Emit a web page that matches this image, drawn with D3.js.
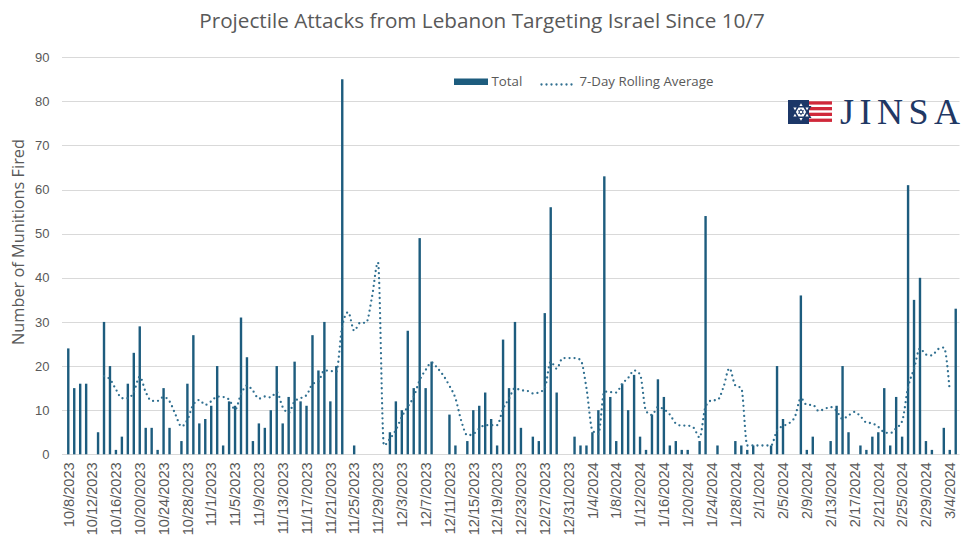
<!DOCTYPE html>
<html><head><meta charset="utf-8">
<script src="https://cdn.jsdelivr.net/npm/d3@7"></script>
<style>body{margin:0;background:#fff;} svg{display:block;}</style>
</head><body>
<svg id="chart" width="968" height="535"></svg>
<script>
// ---------------- DATA ----------------
const startDate = "2023-10-08";
const chartTitle = "Projectile Attacks from Lebanon Targeting Israel Since 10/7";
const yAxisTitle = "Number of Munitions Fired";
const seriesNames = ["Total", "7-Day Rolling Average"];
const yTicks = [0, 10, 20, 30, 40, 50, 60, 70, 80, 90];
const tickLabels = [
  "10/8/2023","10/12/2023","10/16/2023","10/20/2023","10/24/2023","10/28/2023",
  "11/1/2023","11/5/2023","11/9/2023","11/13/2023","11/17/2023","11/21/2023",
  "11/25/2023","11/29/2023","12/3/2023","12/7/2023","12/11/2023","12/15/2023",
  "12/19/2023","12/23/2023","12/27/2023","12/31/2023","1/4/2024","1/8/2024",
  "1/12/2024","1/16/2024","1/20/2024","1/24/2024","1/28/2024","2/1/2024",
  "2/5/2024","2/9/2024","2/13/2024","2/17/2024","2/21/2024","2/25/2024",
  "2/29/2024","3/4/2024"
];
// daily totals, 10/8/2023 .. 3/5/2024
const totals = [
  24,15,16,16,0,5,30,20,1,4,
  16,23,29,6,6,1,15,6,0,3,
  16,27,7,8,11,20,2,12,11,31,
  22,3,7,6,10,20,7,13,21,12,
  11,27,19,30,12,20,85,0,2,0,
  0,0,0,0,5,12,10,28,15,49,
  15,21,0,0,9,2,0,3,10,11,
  14,8,2,26,15,30,6,0,4,3,
  32,56,14,0,0,4,2,2,5,10,
  63,13,3,16,10,18,4,1,9,17,
  13,2,3,1,1,0,3,54,0,2,
  0,0,3,2,1,2,0,0,2,20,
  8,0,0,36,1,4,0,0,3,11,
  20,5,0,2,1,4,5,15,2,13,
  4,61,35,40,3,1,0,6,1,33
];
const rollingAvg = [
  null,null,null,null,null,null,
  17.7,17.0,14.7,12.7,12.7,14.1,17.6,14.1,12.1,12.1,
  13.0,12.0,9.0,6.3,7.8,11.3,12.3,11.2,12.0,13.1,
  13.0,12.4,10.1,13.6,15.6,14.4,12.6,13.1,12.9,14.1,
  10.7,9.4,12.0,12.7,13.4,15.9,16.5,19.0,18.9,18.7,
  29.1,32.2,28.0,29.8,29.8,35.7,43.5,2.0,3.5,5.5,
  8.5,10.8,13.0,16.8,19.1,20.8,19.5,17.8,15.5,12.7,
  7.5,4.3,4.6,5.8,6.6,6.6,6.6,10.3,12.6,15.0,
  14.5,14.4,13.8,14.0,15.0,21.0,19.4,21.8,21.8,21.8,
  21.4,15.0,5.4,4.6,14.2,14.1,14.0,16.0,17.3,19.0,
  18.1,9.8,8.9,10.7,10.2,9.0,7.0,6.5,6.5,6.0,
  3.8,10.8,12.2,12.3,15.2,19.5,15.6,15.0,2.0,2.0,
  2.0,2.0,2.0,5.4,6.4,7.0,8.5,12.7,11.2,11.2,
  9.8,10.3,10.7,9.8,8.0,8.8,9.6,8.6,7.2,7.0,
  6.2,5.0,4.8,5.9,7.5,15.2,19.4,24.0,22.6,22.4,
  23.8,24.2,14.3,null
];

// ---------------- STYLE ----------------
const barColor = "#1d5c7e";
const lineColor = "#2f6f90";
const textColor = "#595959";
const gridColor = "#d9d9d9";

// ---------------- SCALES ----------------
const parse = d3.timeParse("%Y-%m-%d");
const fmt = d => `${d.getMonth()+1}/${d.getDate()}/${d.getFullYear()}`;
const start = parse(startDate);
const categories = d3.timeDay.range(start, d3.timeDay.offset(start, totals.length)).map(fmt);

const svg = d3.select("#chart");
const plotL = 65.3, plotR = 958.7, plotB = 454.3, plotT = 57.2;
const x = d3.scaleBand().domain(categories).range([plotL, plotR]).paddingInner(0).paddingOuter(0);
const y = d3.scaleLinear().domain([0, 90]).range([plotB, plotT]);
const cx = c => x(c) + x.bandwidth() / 2;

// fit text helper
function fit(sel, target) {
  const w = sel.node().getComputedTextLength();
  const fs = parseFloat(sel.style("font-size"));
  sel.style("font-size", (fs * target / w) + "px");
}

// ---------------- GRID ----------------
svg.append("g").selectAll("line").data(yTicks).join("line")
  .attr("x1", 62).attr("x2", 959.5)
  .attr("y1", d => Math.round(y(d)) + 0.5).attr("y2", d => Math.round(y(d)) + 0.5)
  .attr("stroke", gridColor).attr("stroke-width", 1);

// ---------------- Y AXIS ----------------
const yAxis = svg.append("g").attr("transform", "translate(52.5,0)")
  .call(d3.axisLeft(y).tickValues(yTicks).tickSize(0).tickPadding(3));
yAxis.select(".domain").remove();
yAxis.selectAll("text").attr("fill", textColor)
  .style("font-family", "'Liberation Sans', Arial, sans-serif").style("font-size", "13px");

// ---------------- X AXIS ----------------
const xAxis = svg.append("g").attr("transform", `translate(0,${plotB})`)
  .call(d3.axisBottom(x).tickValues(tickLabels).tickSize(0));
xAxis.select(".domain").remove();
xAxis.selectAll("text")
  .attr("fill", textColor)
  .style("font-family", "'Liberation Sans', Arial, sans-serif").style("font-size", "14px")
  .style("text-anchor", "end")
  .attr("transform", "rotate(-90)")
  .attr("x", -8).attr("y", 0).attr("dy", "0.36em");
{
  const t = xAxis.selectAll("text").filter(d => d === "10/8/2023");
  fit(t, 65);
  const fs = t.style("font-size");
  xAxis.selectAll("text").style("font-size", fs);
}

// ---------------- BARS ----------------
const bw = 2.4;
svg.append("g").selectAll("rect")
  .data(categories.map((c, i) => ({c, v: totals[i]})).filter(d => d.v > 0))
  .join("rect")
  .attr("x", d => cx(d.c) - bw / 2)
  .attr("width", bw)
  .attr("y", d => y(d.v))
  .attr("height", d => y(0) - y(d.v))
  .attr("fill", barColor);

// ---------------- ROLLING AVERAGE ----------------
const line = d3.line()
  .defined(d => d.v != null)
  .x(d => cx(d.c)).y(d => y(d.v))
  .curve(d3.curveMonotoneX);
svg.append("path")
  .datum(categories.map((c, i) => ({c, v: rollingAvg[i]})))
  .attr("d", line)
  .attr("fill", "none").attr("stroke", lineColor)
  .attr("stroke-width", 2.3).attr("stroke-linecap", "round")
  .attr("stroke-dasharray", "0 5");

// ---------------- TITLES ----------------
const title = svg.append("text").text(chartTitle)
  .attr("x", 482).attr("y", 28).attr("text-anchor", "middle")
  .attr("fill", textColor)
  .style("font-family", "'Open Sans', sans-serif").style("font-size", "18px");
fit(title, 566);

const yt = svg.append("text").text(yAxisTitle)
  .attr("transform", "translate(24,242) rotate(-90)")
  .attr("text-anchor", "middle").attr("fill", textColor)
  .style("font-family", "'Open Sans', sans-serif").style("font-size", "13px");
fit(yt, 206);

// ---------------- LEGEND ----------------
const lg = svg.append("g");
lg.append("rect").attr("x", 454).attr("y", 78.5).attr("width", 34).attr("height", 6.5).attr("fill", barColor);
const l1 = lg.append("text").text(seriesNames[0]).attr("x", 491.5).attr("y", 86)
  .attr("fill", textColor).style("font-family", "'Open Sans', sans-serif").style("font-size", "13px");
lg.append("path").attr("d", "M541.5,84.5H574.5")
  .attr("stroke", lineColor).attr("stroke-width", 2.3).attr("stroke-linecap", "round")
  .attr("stroke-dasharray", "0 5");
const l2 = lg.append("text").text(seriesNames[1]).attr("x", 579.5).attr("y", 86)
  .attr("fill", textColor).style("font-family", "'Open Sans', sans-serif").style("font-size", "13px");
fit(l2, 134);
l1.style("font-size", l2.style("font-size"));

// ---------------- LOGO ----------------
const logo = svg.append("g");
logo.append("rect").attr("x", 788).attr("y", 100).attr("width", 21).attr("height", 24).attr("fill", "#1c3768");
[101.3, 107, 112.7, 118.6].forEach(yy => {
  logo.append("rect").attr("x", 809).attr("y", yy).attr("width", 23).attr("height", 3.3).attr("fill", "#d0283a");
});
function hexagram(cxp, cyp, r) {
  const tri = a0 => d3.range(3).map(k => {
    const a = (a0 + k * 120) * Math.PI / 180;
    return [cxp + r * Math.cos(a), cyp + r * Math.sin(a)];
  });
  return "M" + tri(-90).join("L") + "Z M" + tri(90).join("L") + "Z";
}
logo.append("path").attr("d", hexagram(801, 112, 10.5)).attr("fill", "#ffffff")
  .attr("stroke", "#1c3768").attr("stroke-width", 1.6);
logo.append("path").attr("d", hexagram(801, 112, 3.6)).attr("fill", "#1c3768");
logo.append("circle").attr("cx", 801).attr("cy", 112).attr("r", 1.3).attr("fill", "#fff");
logo.append("text").text("JINSA").attr("x", 840).attr("y", 124)
  .attr("fill", "#1f3864")
  .attr("textLength", 120).attr("lengthAdjust", "spacing")
  .style("font-family", "'Liberation Serif', 'DejaVu Serif', serif").style("font-size", "36px");
</script>
</body></html>
